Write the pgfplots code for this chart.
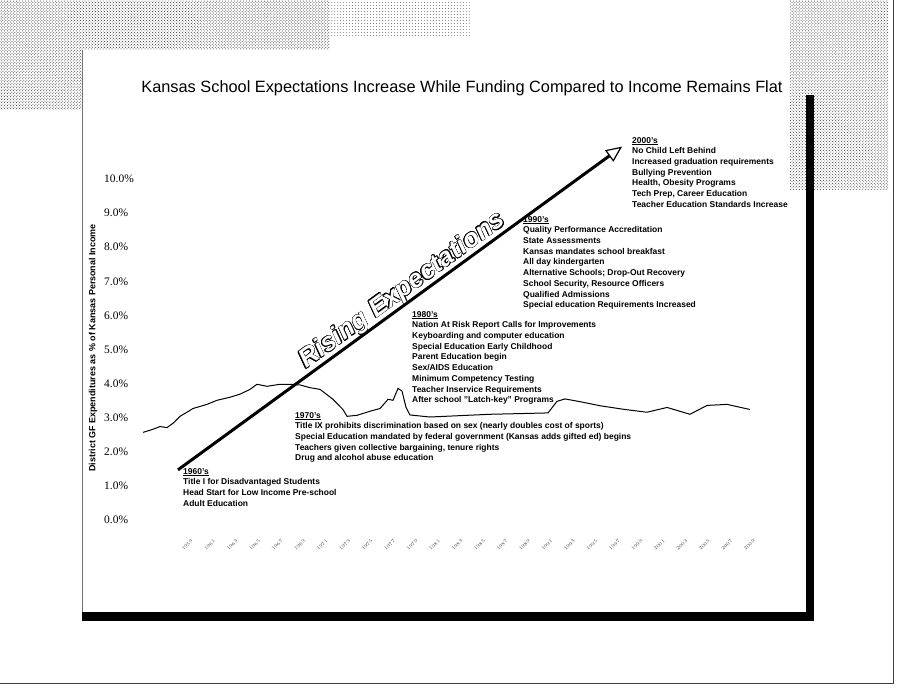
\documentclass[border=0pt]{standalone}
\usepackage{pgfplots}
\pgfplotsset{compat=1.18}
\usepackage{fontspec}
\setmainfont{Liberation Sans}
\newfontfamily\serifft{Liberation Serif}
\usetikzlibrary{arrows.meta,patterns}
\usepackage{contour}
\contourlength{0.5pt}

\pgfplotstableread{
year pct
1956.00 2.57
1956.80 2.65
1957.51 2.74
1958.14 2.71
1958.76 2.86
1959.29 3.04
1959.91 3.16
1960.45 3.27
1961.07 3.33
1961.69 3.39
1962.58 3.51
1963.74 3.60
1964.63 3.69
1965.52 3.83
1966.14 3.98
1967.03 3.92
1968.19 3.98
1969.08 3.98
1969.97 3.96
1970.86 3.88
1971.75 3.83
1972.90 3.54
1973.79 3.24
1974.15 3.04
1975.04 3.07
1976.20 3.19
1977.09 3.27
1977.80 3.54
1978.24 3.51
1978.69 3.86
1979.04 3.78
1979.40 3.30
1979.75 3.08
1981.53 3.02
1984.20 3.06
1986.87 3.10
1989.54 3.12
1992.03 3.14
1992.83 3.48
1993.54 3.55
1994.88 3.47
1996.66 3.35
1998.88 3.24
2000.84 3.16
2002.62 3.30
2004.66 3.10
2006.18 3.36
2007.96 3.39
2010.00 3.24
}\fundingtable

\begin{document}
\begin{tikzpicture}[x=1bp,y=1bp]
\useasboundingbox (0,0) rectangle (899,690);
% scanned halftone areas
\fill[pattern=crosshatch dots, pattern color=black!80] (0,690) -- (330,690) -- (330,640) -- (82,640) -- (82,580) -- (0,580) -- cycle;
\fill[pattern=dots, pattern color=black!55] (330,690) rectangle (470,652);
\fill[pattern=crosshatch dots, pattern color=black!75] (790,690) rectangle (888,500);
% slide frame
\draw[black!55, line width=0.8bp] (82,69) -- (82,640);
\fill[black] (806,69) rectangle (814,595);
\fill[black] (82,69) rectangle (814,78);
% page border
\draw[black!75, line width=0.8bp] (893,690) -- (893,7) -- (0,7);
% title
\node[font=\fontsize{16.4}{19}\selectfont] at (462,602) {Kansas School Expectations Increase While Funding Compared to Income Remains Flat};
% y label
\node[rotate=90, font=\bfseries\fontsize{9}{10}\selectfont] at (93,342) {District GF Expenditures as \% of Kansas Personal Income};

\begin{axis}[
  at={(143bp,170bp)}, anchor=south west,
  scale only axis, width=607bp, height=341bp,
  xmin=1956, xmax=2010, ymin=0, ymax=10,
  axis line style={draw=none}, tick style={draw=none},
  clip=false,
  ytick={0,1,...,10},
  yticklabels={0.0\%,1.0\%,2.0\%,3.0\%,4.0\%,5.0\%,6.0\%,7.0\%,8.0\%,9.0\%,10.0\%},
  yticklabel style={anchor=west, inner sep=0pt, xshift=-39bp, font=\serifft\fontsize{11.5}{12}\selectfont},
  xtick={1959,1961,...,2009},
  xticklabel style={rotate=45, anchor=north east, yshift=-20bp, font=\fontsize{5.5}{6}\selectfont, text=black!70, /pgf/number format/1000 sep={}},
]
\addplot[black, line width=1bp, mark=none] table[x=year, y=pct] {\fundingtable};

\draw[line width=3bp, -{Triangle[open, length=16bp, width=14bp, line width=1.2bp]}] (axis cs:1959.11,1.47) -- (axis cs:1998.62,10.95);
\node[rotate=36, anchor=south, inner sep=0pt, font=\bfseries\itshape\fontsize{26}{28}\selectfont] at (axis cs:1979.75,6.42) {\contour{black}{\textcolor{white}{Rising Expectations}}};
\end{axis}

\tikzset{ann/.style={anchor=north west, inner sep=0pt, align=left, font=\bfseries\fontsize{8.5}{10.75}\selectfont}}
\node[ann] at (183,222) {\underline{1960's}\\Title I for Disadvantaged Students\\Head Start for Low Income Pre-school\\Adult Education};
\node[ann] at (295,278) {\underline{1970's}\\Title IX prohibits discrimination based on sex (nearly doubles cost of sports)\\Special Education mandated by federal government (Kansas adds gifted ed) begins\\Teachers given collective bargaining, tenure rights\\Drug and alcohol abuse education};
\node[ann] at (412,379) {\underline{1980's}\\Nation At Risk Report Calls for Improvements\\Keyboarding and computer education\\Special Education Early Childhood\\Parent Education begin\\Sex/AIDS Education\\Minimum Competency Testing\\Teacher Inservice Requirements\\After school "Latch-key" Programs};
\node[ann] at (523,474) {\underline{1990's}\\Quality Performance Accreditation\\State Assessments\\Kansas mandates school breakfast\\All day kindergarten\\Alternative Schools; Drop-Out Recovery\\School Security, Resource Officers\\Qualified Admissions\\Special education Requirements Increased};
\node[ann] at (632,553) {\underline{2000's}\\No Child Left Behind\\Increased graduation requirements\\Bullying Prevention\\Health, Obesity Programs\\Tech Prep, Career Education\\Teacher Education Standards Increase};
\end{tikzpicture}
\end{document}
